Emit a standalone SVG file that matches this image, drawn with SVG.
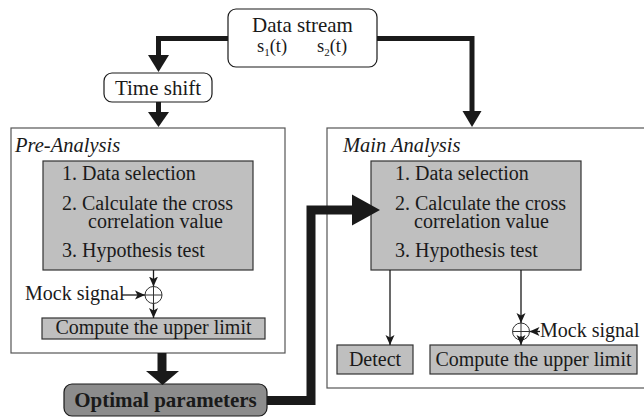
<svg xmlns="http://www.w3.org/2000/svg" width="644" height="420" viewBox="0 0 644 420" font-family="'Liberation Serif', 'Times New Roman', serif">
<defs>
<style>
text{font-family:'Liberation Serif','Times New Roman',serif;font-size:20px;fill:#1a1a1a}
.ital{font-style:italic;font-size:20.5px}
.big{font-size:21px}
.frame{fill:#fff;stroke:#555;stroke-width:1.2}
.step{fill:#bfbfbf;stroke:#333;stroke-width:1.2}
.round{fill:#fff;stroke:#1a1a1a;stroke-width:1.2}
.thick{fill:none;stroke:#1a1a1a;stroke-linejoin:miter}
.head{fill:#1a1a1a}
.thin{fill:none;stroke:#1a1a1a;stroke-width:1.3}
.sum{fill:#fff;stroke:#333;stroke-width:1}
</style>
<marker id="ah" markerUnits="userSpaceOnUse" markerWidth="10" markerHeight="10" viewBox="0 0 10 10" refX="10" refY="5" orient="auto">
<path d="M0,0.5 L10,5 L0,9.5 L2.5,5 Z" fill="#1a1a1a"/>
</marker>
</defs>
<rect width="644" height="420" fill="#fff"/>

<g id="pre-analysis">
<rect class="frame" x="11" y="128" width="274" height="225"/>
<text class="ital" x="15" y="152">Pre-Analysis</text>
</g>
<g id="main-analysis">
<rect class="frame" x="327" y="128" width="330" height="260"/>
<text class="ital" x="343" y="152">Main Analysis</text>
</g>

<g id="data-stream">
<rect class="round" x="228" y="9" width="149" height="58" rx="8"/>
<text class="big" x="302.5" y="32" text-anchor="middle">Data stream</text>
<text x="257" y="52" style="font-size:18.5px">s<tspan dy="4" style="font-size:11px">1</tspan><tspan dy="-4">(t)</tspan></text>
<text x="317" y="52" style="font-size:18.5px">s<tspan dy="4" style="font-size:11px">2</tspan><tspan dy="-4">(t)</tspan></text>
</g>

<g id="time-shift">
<rect class="round" x="104" y="73" width="108" height="29" rx="8"/>
<text class="big" x="158" y="95" text-anchor="middle">Time shift</text>
</g>

<g id="pre-steps">
<rect class="step" x="43" y="161" width="210" height="109"/>
<text x="62" y="180">1. Data selection</text>
<text x="62" y="210">2. Calculate the cross<tspan x="88" dy="18">correlation value</tspan></text>
<text x="62" y="257">3. Hypothesis test</text>
</g>

<g id="pre-sum">
<circle class="sum" cx="153.5" cy="295" r="8.5"/>
<path class="sum" d="M145,295 H162 M153.5,286.5 V303.5"/>
</g>
<g id="pre-mock">
<text x="25" y="300">Mock signal</text>
</g>

<g id="pre-upper">
<rect class="step" x="42" y="318" width="223" height="21"/>
<text x="153.5" y="334" text-anchor="middle">Compute the upper limit</text>
</g>

<g id="optimal">
<rect x="64" y="384" width="203" height="32" rx="8" fill="#8c8c8c" stroke="#1a1a1a" stroke-width="1.2"/>
<text class="big" x="165.5" y="407" text-anchor="middle" font-weight="bold">Optimal parameters</text>
</g>

<g id="main-steps">
<rect class="step" x="371" y="161" width="210" height="109"/>
<text x="395" y="180">1. Data selection</text>
<text x="395" y="210">2. Calculate the cross<tspan x="414" dy="18">correlation value</tspan></text>
<text x="395" y="257">3. Hypothesis test</text>
</g>

<g id="detect">
<rect class="step" x="337" y="345" width="76" height="29"/>
<text x="375" y="366" text-anchor="middle">Detect</text>
</g>

<g id="main-sum">
<circle class="sum" cx="521" cy="331.5" r="8.5"/>
<path class="sum" d="M512.5,331.5 H529.5 M521,323 V340"/>
</g>
<g id="main-mock">
<text x="540" y="337">Mock signal</text>
</g>

<g id="main-upper">
<rect class="step" x="430" y="345" width="207" height="29"/>
<text x="533.5" y="366" text-anchor="middle">Compute the upper limit</text>
</g>

<g id="connectors">
<path class="thick" stroke-width="5" d="M228,38.5 H158.5 V57"/>
<polygon class="head" points="148,55 169,55 158.5,72"/>
<path class="thick" stroke-width="5" d="M158.5,102 V114"/>
<polygon class="head" points="148,112 169,112 158.5,127"/>
<path class="thick" stroke-width="5" d="M377,38.5 H472 V113"/>
<polygon class="head" points="462.5,111 481.5,111 472,127"/>
<path class="thick" stroke-width="9" d="M162,353 V373"/>
<polygon class="head" points="146,371 179,371 162.5,385"/>
<path class="thick" stroke-width="9" d="M267,400.5 H311 V210 H354"/>
<polygon class="head" points="352,194.5 352,225.5 380,210"/>
<path class="thin" d="M153.5,270 V286.5" marker-end="url(#ah)"/>
<path class="thin" d="M153.5,303.5 V318" marker-end="url(#ah)"/>
<path class="thin" d="M122,295 H145" marker-end="url(#ah)"/>
<path class="thin" d="M390,270 V345" marker-end="url(#ah)"/>
<path class="thin" d="M521,270 V323" marker-end="url(#ah)"/>
<path class="thin" d="M521,336 V345" marker-end="url(#ah)"/>
<path class="thin" d="M540,331.5 H529.5" marker-end="url(#ah)"/>
</g>
</svg>
